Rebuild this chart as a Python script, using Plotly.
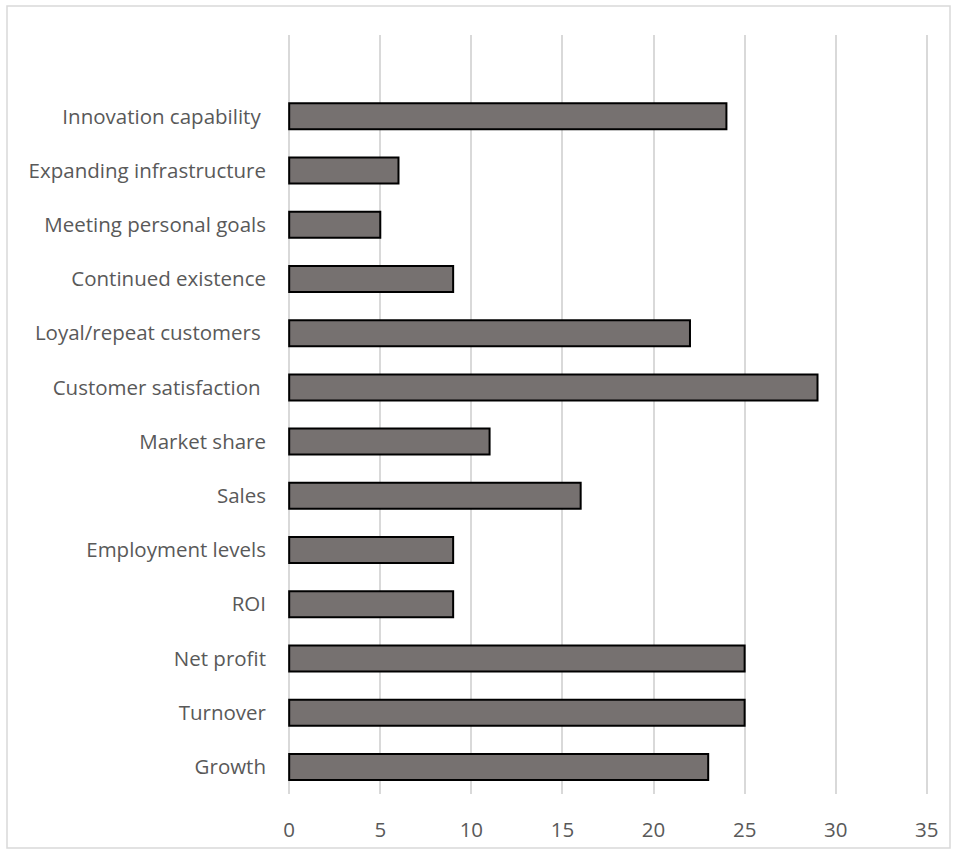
import plotly.graph_objects as go

categories = ["Growth", "Turnover", "Net profit", "ROI", "Employment levels", "Sales",
              "Market share", "Customer satisfaction\u00a0", "Loyal/repeat customers\u00a0",
              "Continued existence", "Meeting personal goals", "Expanding infrastructure",
              "Innovation capability\u00a0"]
values = [23, 25, 25, 9, 9, 16, 11, 29, 22, 9, 5, 6, 24]
x_ticks = [0, 5, 10, 15, 20, 25, 30, 35]

W, H = 957, 852
L, R, T, B = 287, 28, 35, 58
pw, ph = W - L - R, H - T - B

fig = go.Figure(go.Bar(
    x=values, y=categories, orientation="h", width=0.48,
    marker=dict(color="#767170", line=dict(color="#000000", width=2)),
))

fig.update_layout(
    width=W, height=H,
    margin=dict(l=L, r=R, t=T, b=B, pad=0, autoexpand=False),
    paper_bgcolor="white", plot_bgcolor="white",
    font=dict(family="Open Sans, sans-serif", size=20.5, color="#595959"),
    showlegend=False,
    xaxis=dict(range=[-0.12, 35.12], tickvals=x_ticks, showgrid=True, gridcolor="#d9d9d9",
               gridwidth=1.5, zeroline=False, showline=False, ticks="", automargin=False,
               ticklabelstandoff=21, tickfont=dict(size=20.5, color="#595959")),
    yaxis=dict(type="category", categoryorder="array", categoryarray=categories,
               range=[-0.5, 13.5], showgrid=False, zeroline=False, showline=False,
               ticks="", automargin=False, ticklabelstandoff=20,
               tickfont=dict(size=20.5, color="#595959")),
    shapes=[dict(type="rect", xref="paper", yref="paper",
                 x0=(7 - L) / pw, x1=(950 - L) / pw,
                 y0=(T + ph - 848) / ph, y1=(T + ph - 6) / ph,
                 line=dict(color="#d9d9d9", width=1.5), fillcolor="rgba(0,0,0,0)",
                 layer="below")],
)

fig.write_html("out.html")
